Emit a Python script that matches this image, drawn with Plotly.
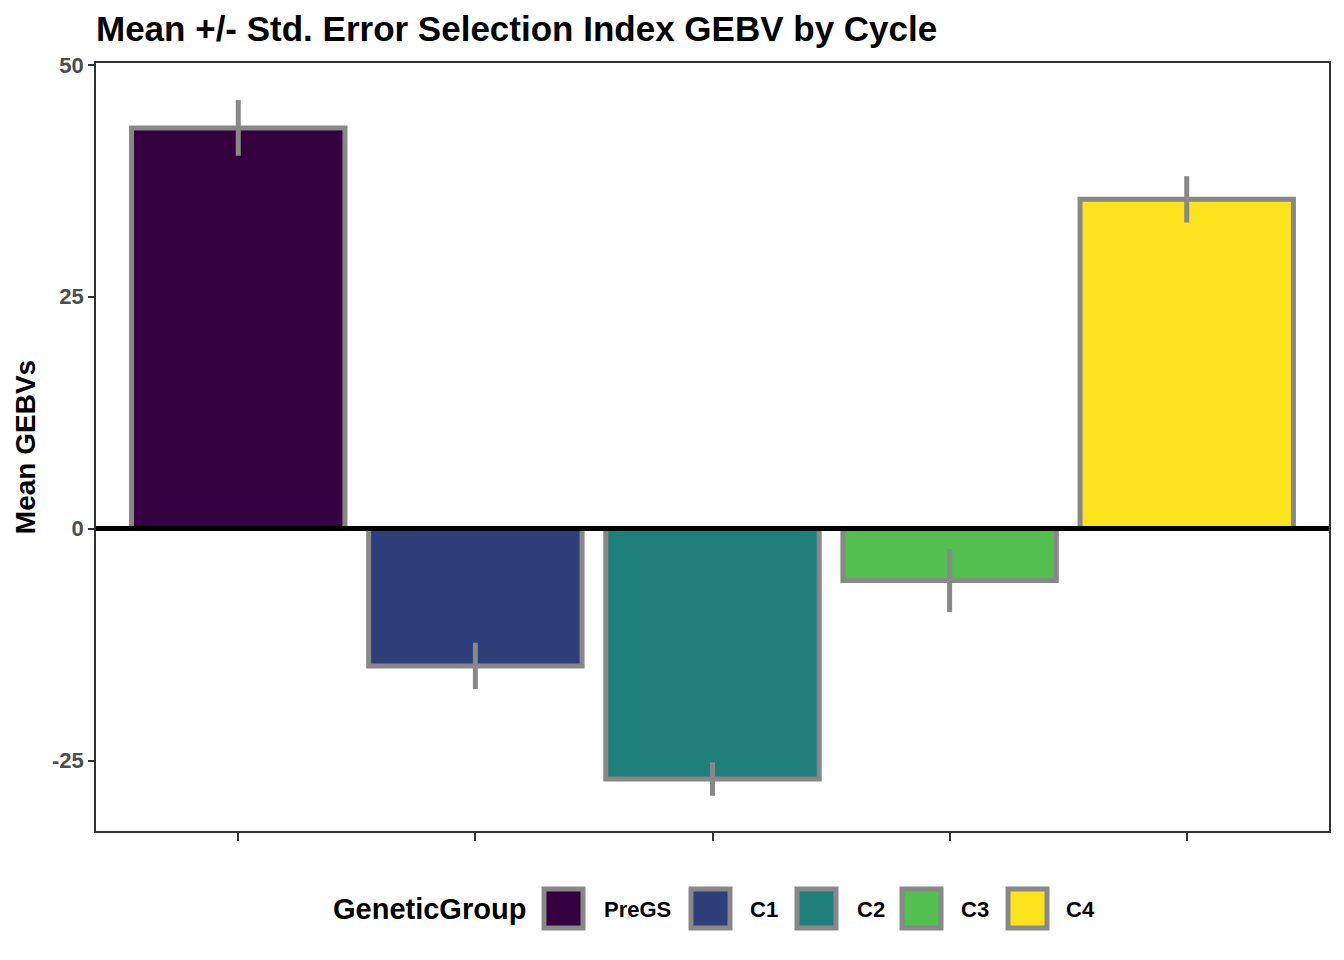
import plotly.graph_objects as go

# data
groups = ["PreGS", "C1", "C2", "C3", "C4"]
mean_gebv = [43.2, -14.8, -27.0, -5.6, 35.5]
std_err = [3.0, 2.5, 1.8, 3.4, 2.5]
colors = ["#340040", "#2E3E78", "#1F7F7A", "#52BF4E", "#FBE31E"]
y_ticks = [-25, 0, 25, 50]
y_tick_text = ["-25", "0", "25", "50"]

font_family = "Liberation Sans, Arial, sans-serif"
W, H = 1344, 960
L, R, T, B = 96, 15, 63, 129
pw, ph = W - L - R, H - T - B


def px_x(p):
    return (p - L) / pw


def px_y(p):
    return (H - B - p) / ph


fig = go.Figure()
for g, m, se, c in zip(groups, mean_gebv, std_err, colors):
    fig.add_trace(go.Bar(
        x=[g], y=[m], name=g, width=0.9, showlegend=False,
        marker=dict(color=c, line=dict(color="#888888", width=5)),
        error_y=dict(type="data", array=[se], color="#888888", thickness=5, width=0),
    ))

# horizontal line at zero
fig.add_shape(type="line", xref="paper", yref="y", x0=0, x1=1, y0=0, y1=0,
              line=dict(color="black", width=5), layer="above")

# legend drawn by hand so the keys can be as large as in the reference
box_left = [544, 691, 797, 902, 1008]
label_left = [602, 748, 855, 959, 1064]
for g, c, bx, lx in zip(groups, colors, box_left, label_left):
    fig.add_shape(type="rect", xref="paper", yref="paper",
                  x0=px_x(bx), x1=px_x(bx + 39), y0=px_y(889), y1=px_y(928),
                  fillcolor=c, line=dict(color="#888888", width=5))
    fig.add_annotation(text="<b>" + g + "</b>", xref="paper", yref="paper",
                       x=px_x(lx), y=px_y(909), xanchor="left", yanchor="middle",
                       showarrow=False, font=dict(size=22, color="black"))
fig.add_annotation(text="<b>GeneticGroup</b>", xref="paper", yref="paper",
                   x=px_x(331), y=px_y(909), xanchor="left", yanchor="middle",
                   showarrow=False, font=dict(size=29, color="black"))

fig.update_layout(
    width=W, height=H,
    barmode="overlay",
    showlegend=False,
    plot_bgcolor="white", paper_bgcolor="white",
    font=dict(family=font_family, color="black"),
    title=dict(text="<b>Mean +/- Std. Error Selection Index GEBV by Cycle</b>",
               x=L / W, xanchor="left", y=1 - 29 / H, yanchor="middle",
               font=dict(size=35, color="black")),
    margin=dict(l=L, r=R, t=T, b=B),
    xaxis=dict(showticklabels=False, ticks="outside", ticklen=8, tickwidth=2,
               tickcolor="#333333", showline=True, linecolor="#333333", linewidth=1.5,
               mirror=True, showgrid=False, range=[-0.6, 4.6]),
    yaxis=dict(range=[-32.6, 50.2], tickvals=y_ticks, ticktext=y_tick_text,
               ticks="outside", ticklen=6, tickwidth=2, tickcolor="#333333",
               tickfont=dict(size=22, color="#4d4d4d", family=font_family, weight="bold"),
               showline=True, linecolor="#333333", linewidth=1.5, mirror=True,
               showgrid=False, zeroline=False,
               title=dict(text="<b>Mean GEBVs</b>", font=dict(size=28, color="black"),
                          standoff=8)),
)

fig.write_html("out.html", config={"displayModeBar": False},
               post_script="document.body.style.margin='0';")
